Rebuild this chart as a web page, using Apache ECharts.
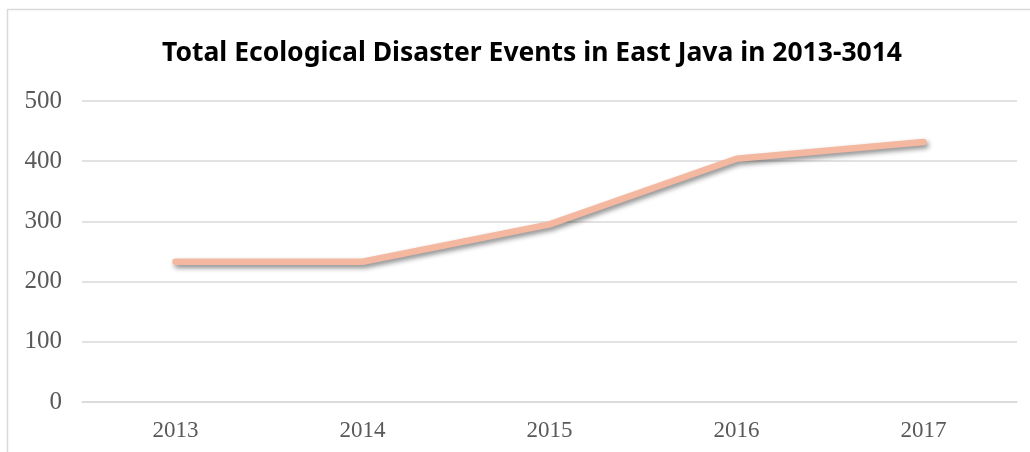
<!DOCTYPE html>
<html><head><meta charset="utf-8">
<script src="https://cdn.jsdelivr.net/npm/echarts@6/dist/echarts.min.js"></script>
<style>html,body{margin:0;padding:0;background:#fff}#c{width:1030px;height:452px}</style>
</head><body><div id="c"></div>
<script>
const categories = ['2013','2014','2015','2016','2017'];
const events = [233, 233, 295, 404, 432];
const chart = echarts.init(document.getElementById('c'));
chart.setOption({
  animation: false,
  title: {
    text: 'Total Ecological Disaster Events in East Java in 2013-3014',
    left: 527, textAlign: 'center', top: 35,
    textStyle: { fontFamily: 'Noto Sans', fontWeight: 'bold', fontSize: 26.5, color: '#000' }
  },
  graphic: [{
    type: 'rect', silent: true, z: -1,
    shape: { x: 7.5, y: 9.5, width: 1100, height: 600 },
    style: { fill: 'none', stroke: '#d9d9d9', lineWidth: 1.5 }
  }],
  grid: { left: 82, right: 13, top: 101, bottom: 50 },
  xAxis: {
    type: 'category', data: categories, boundaryGap: true,
    axisLine: { lineStyle: { color: '#d9d9d9', width: 1.5 } },
    axisTick: { show: false },
    axisLabel: { margin: 17, fontFamily: 'Liberation Serif', fontSize: 23, color: '#595959' }
  },
  yAxis: {
    type: 'value', min: 0, max: 500, interval: 100,
    axisLine: { show: false }, axisTick: { show: false },
    splitLine: { lineStyle: { color: '#d9d9d9', width: 1.5 } },
    axisLabel: { margin: 20, fontFamily: 'Liberation Serif', fontSize: 25, color: '#595959' }
  },
  series: [{
    type: 'line', data: events, symbol: 'none',
    lineStyle: { color: '#F4B7A0', width: 6.5, cap: 'round', join: 'round',
      shadowColor: 'rgba(0,0,0,0.45)', shadowBlur: 5, shadowOffsetX: 2, shadowOffsetY: 3 }
  }]
});
</script></body></html>
